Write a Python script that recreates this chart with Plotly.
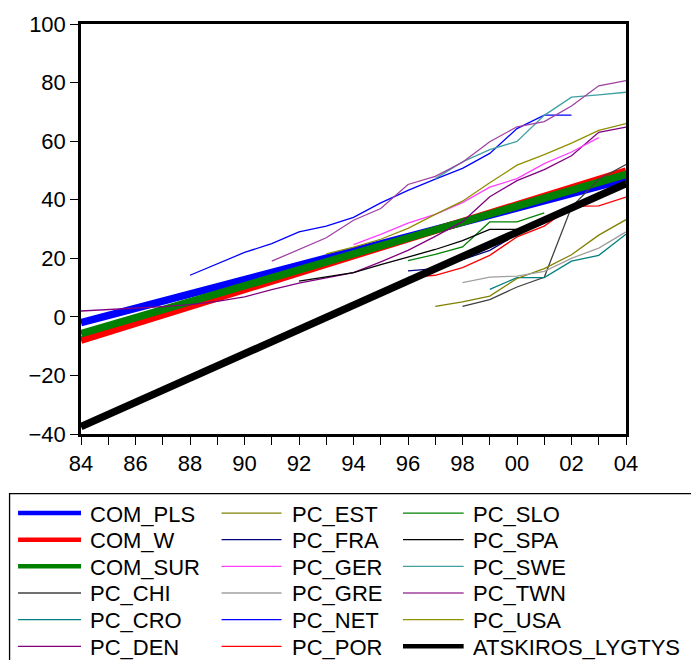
import plotly.graph_objects as go

# ---------------- data ----------------
X_TICK_VALUES = list(range(1984, 2005))
X_TICK_LABELS = ["84", "", "86", "", "88", "", "90", "", "92", "", "94", "",
                 "96", "", "98", "", "00", "", "02", "", "04"]
Y_TICK_VALUES = [-40, -20, 0, 20, 40, 60, 80, 100]

# trend lines (straight, end points)
COM_PLS_YEARS = [1984, 2004]
COM_PLS = [-2.0, 47.0]
COM_W_YEARS = [1984, 2004]
COM_W = [-8.0, 49.8]
COM_SUR_YEARS = [1984, 2004]
COM_SUR = [-5.7, 48.7]
ATSKIROS_YEARS = [1984, 2004]
ATSKIROS_LYGTYS = [-37.5, 45.5]

# country series: start year + yearly values
PC_CHI_START = 1998
PC_CHI = [3.6, 5.9, 10.2, 13.5, 37.5, 47.0, 52.0]
PC_CRO_START = 1999
PC_CRO = [9.4, 13.4, 13.4, 19.0, 21.0, 28.2]
PC_DEN_START = 1984
PC_DEN = [2.0, 2.5, 2.9, 3.5, 4.2, 5.3, 6.8, 9.3, 11.5, 13.3, 15.1, 18.8,
          22.7, 27.5, 32.5, 41.0, 46.5, 50.3, 55.0, 63.0, 64.8]
PC_EST_START = 1997
PC_EST = [3.6, 5.1, 7.1, 13.1, 16.5, 21.2, 27.9, 33.2]
PC_FRA_START = 1996
PC_FRA = [15.7, 16.5, 19.5, 22.7, 28.2, 32.0]
PC_GER_START = 1994
PC_GER = [24.7, 28.2, 32.0, 35.0, 39.0, 44.3, 47.2, 52.3, 56.3, 61.2]
PC_GRE_START = 1998
PC_GRE = [11.7, 13.6, 13.9, 15.5, 20.0, 23.5, 29.0]
PC_NET_START = 1988
PC_NET = [14.2, 18.0, 22.0, 25.0, 29.0, 31.0, 34.0, 38.9, 43.2, 47.0, 50.7,
          55.8, 64.3, 68.9, 68.9]
PC_POR_START = 1996
PC_POR = [13.5, 14.2, 16.8, 21.0, 27.3, 31.0, 37.7, 37.9, 40.9]
PC_SLO_START = 1996
PC_SLO = [19.2, 21.3, 23.9, 32.4, 32.4, 35.5]
PC_SPA_START = 1992
PC_SPA = [12.2, 13.6, 15.1, 17.8, 20.4, 23.0, 26.0, 29.9, 29.9]
PC_SWE_START = 1997
PC_SWE = [47.2, 52.9, 57.1, 59.9, 68.8, 75.0, 75.8, 76.7]
PC_TWN_START = 1991
PC_TWN = [19.0, 23.0, 27.0, 33.0, 37.0, 45.2, 48.0, 52.8, 59.8, 64.9, 66.7,
          72.0, 78.9, 80.7]
PC_USA_START = 1993
PC_USA = [21.5, 23.8, 26.5, 30.2, 35.0, 39.5, 45.8, 51.8, 55.4, 59.3, 63.7, 66.0]


def yrs(start, vals):
    return list(range(start, start + len(vals)))


# (name, x, y, color, width) in legend order
SERIES = [
    ("COM_PLS", COM_PLS_YEARS, COM_PLS, "#0000FF", 7.5),
    ("COM_W", COM_W_YEARS, COM_W, "#FF0000", 7.5),
    ("COM_SUR", COM_SUR_YEARS, COM_SUR, "#008000", 7.5),
    ("PC_CHI", yrs(PC_CHI_START, PC_CHI), PC_CHI, "#404040", 1.3),
    ("PC_CRO", yrs(PC_CRO_START, PC_CRO), PC_CRO, "#008080", 1.3),
    ("PC_DEN", yrs(PC_DEN_START, PC_DEN), PC_DEN, "#800080", 1.3),
    ("PC_EST", yrs(PC_EST_START, PC_EST), PC_EST, "#808000", 1.3),
    ("PC_FRA", yrs(PC_FRA_START, PC_FRA), PC_FRA, "#000080", 1.3),
    ("PC_GER", yrs(PC_GER_START, PC_GER), PC_GER, "#FF40FF", 1.3),
    ("PC_GRE", yrs(PC_GRE_START, PC_GRE), PC_GRE, "#A0A0A0", 1.3),
    ("PC_NET", yrs(PC_NET_START, PC_NET), PC_NET, "#0000FF", 1.3),
    ("PC_POR", yrs(PC_POR_START, PC_POR), PC_POR, "#FF0000", 1.3),
    ("PC_SLO", yrs(PC_SLO_START, PC_SLO), PC_SLO, "#008000", 1.3),
    ("PC_SPA", yrs(PC_SPA_START, PC_SPA), PC_SPA, "#000000", 1.3),
    ("PC_SWE", yrs(PC_SWE_START, PC_SWE), PC_SWE, "#40A0A0", 1.3),
    ("PC_TWN", yrs(PC_TWN_START, PC_TWN), PC_TWN, "#A040A0", 1.3),
    ("PC_USA", yrs(PC_USA_START, PC_USA), PC_USA, "#909000", 1.3),
    ("ATSKIROS_LYGTYS", ATSKIROS_YEARS, ATSKIROS_LYGTYS, "#000000", 7.5),
]

# ---------------- layout geometry (pixels) ----------------
FIG_W, FIG_H = 691, 660
LEFT, RIGHT, TOP, BOTTOM = 81.0, 626.5, 23.5, 433.8
PW, PH = RIGHT - LEFT, BOTTOM - TOP
FONT = "Liberation Sans, Arial, sans-serif"


def paper_x(p):
    return (p - LEFT) / PW


def paper_y(p):
    return (BOTTOM - p) / PH


fig = go.Figure()
for name, xs, ys, color, width in SERIES:
    fig.add_trace(go.Scatter(x=xs, y=ys, mode="lines", name=name,
                             line=dict(color=color, width=width),
                             showlegend=False))

# ---------------- manual legend (3 columns x 6 rows) ----------------
ROW0, ROW_STEP = 512.9, 26.67
LINE_X0 = [18.0, 221.7, 403.3]
LINE_X1 = [81.0, 281.7, 464.0]
TEXT_X = [89.0, 290.7, 472.3]

shapes = [dict(type="rect", xref="paper", yref="paper",
               x0=paper_x(9.5), x1=paper_x(720), y0=paper_y(493.5), y1=paper_y(690),
               line=dict(color="black", width=1.3), fillcolor="rgba(0,0,0,0)")]
annotations = []
for i, (name, xs, ys, color, width) in enumerate(SERIES):
    col, row = divmod(i, 6)
    yy = ROW0 + row * ROW_STEP
    lw = 4.5 if width > 3 else 1.3
    shapes.append(dict(type="line", xref="paper", yref="paper",
                       x0=paper_x(LINE_X0[col]), x1=paper_x(LINE_X1[col]),
                       y0=paper_y(yy), y1=paper_y(yy),
                       line=dict(color=color, width=lw)))
    annotations.append(dict(text=name, xref="paper", yref="paper",
                            x=paper_x(TEXT_X[col]), y=paper_y(yy + 1),
                            xanchor="left", yanchor="middle", showarrow=False,
                            borderpad=0,
                            font=dict(family=FONT, size=22, color="black")))

axis_common = dict(showgrid=False, zeroline=False, showline=True, linecolor="black",
                   linewidth=2.5, mirror=True, ticks="outside", ticklen=8,
                   tickwidth=1.3, tickcolor="black",
                   tickfont=dict(family=FONT, size=22, color="black"))

fig.update_layout(
    width=FIG_W, height=FIG_H,
    margin=dict(l=LEFT, r=FIG_W - RIGHT, t=TOP, b=FIG_H - BOTTOM, pad=0),
    paper_bgcolor="white", plot_bgcolor="white",
    showlegend=False,
    xaxis=dict(range=[1984, 2004], tickmode="array", tickvals=X_TICK_VALUES,
               ticktext=X_TICK_LABELS, **axis_common),
    yaxis=dict(range=[-40, 100], tickmode="array", tickvals=Y_TICK_VALUES,
               ticklabelstandoff=0, **axis_common),
    shapes=shapes,
    annotations=annotations,
)

fig.write_html("out.html")
